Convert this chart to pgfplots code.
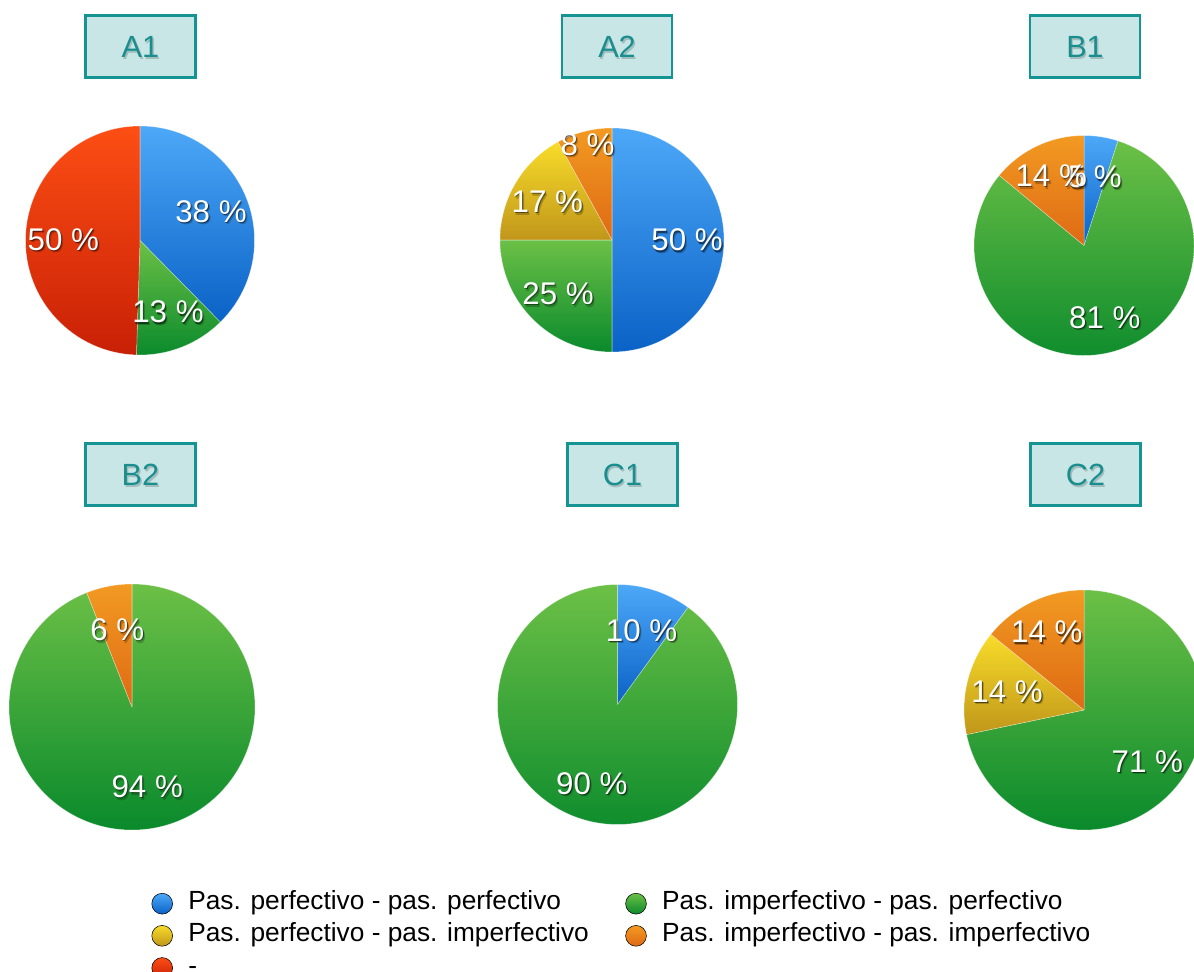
\documentclass[border=0pt]{standalone}
\usepackage{pgfplots}
\pgfplotsset{compat=1.18}
\usepackage{fontspec}
\setmainfont{Liberation Sans}

% slice colours: top and bottom of each wedge's vertical gradient
\definecolor{blueT}{HTML}{4DA8F8}
\definecolor{blueB}{HTML}{0A62C6}
\definecolor{greenT}{HTML}{6CC046}
\definecolor{greenB}{HTML}{0A8A2C}
\definecolor{yellowT}{HTML}{F8DC2A}
\definecolor{yellowB}{HTML}{C0961A}
\definecolor{orangeT}{HTML}{F29A22}
\definecolor{orangeB}{HTML}{DE6A14}
\definecolor{redT}{HTML}{FC4E14}
\definecolor{redB}{HTML}{C82006}
\definecolor{boxfill}{HTML}{C8E6E6}
\definecolor{boxline}{HTML}{169494}
\definecolor{boxtext}{HTML}{1A8E8E}

\newcommand\labelfont{\fontsize{23.5pt}{26pt}\selectfont}
\newcommand\titlefont{\fontsize{23pt}{26pt}\selectfont}
\newcommand\legendfont{\fontsize{19.7pt}{24pt}\selectfont}

% one slice entry: value/colour/label radius
\def\pieparse#1/#2/#3\relax{\def\pv{#1}\def\pc{#2}\def\pl{#3}}

\newcommand\pielabel[3]{%
  \node[text=black, opacity=0.22, font=\labelfont, xshift=1.5pt, yshift=-2pt] at (axis cs:#1,#2) {#3 \%};
  \node[text=black, opacity=0.5, font=\labelfont, xshift=0.7pt, yshift=-1pt] at (axis cs:#1,#2) {#3 \%};
  \node[text=white, font=\labelfont] at (axis cs:#1,#2) {#3 \%};
}

\newcommand\pieslices[1]{%
  \def\pietotal{0}%
  \pgfplotsforeachungrouped\s in {#1}{\expandafter\pieparse\s\relax
    \pgfmathsetmacro\pietotal{\pietotal+\pv}}%
  \def\piecum{0}%
  \pgfplotsforeachungrouped\s in {#1}{\expandafter\pieparse\s\relax
    \pgfmathsetmacro\aA{90-360*(\piecum/\pietotal)}%
    \pgfmathsetmacro\piecum{\piecum+\pv}%
    \pgfmathsetmacro\aB{90-360*(\piecum/\pietotal)}%
    \pgfmathsetmacro\cA{cos(\aA)}\pgfmathsetmacro\sA{sin(\aA)}%
    \edef\next{\noexpand\shadedraw[top color=\pc T, bottom color=\pc B,
        draw=white, draw opacity=0.45, line width=0.4pt, line join=round]
      (axis cs:0,0) -- (axis cs:\cA,\sA)
      arc[start angle=\aA, end angle=\aB, radius=\pieR] -- cycle;}%
    \next}%
  \def\piecum{0}%
  \pgfplotsforeachungrouped\s in {#1}{\expandafter\pieparse\s\relax
    \pgfmathsetmacro\aA{90-360*(\piecum/\pietotal)}%
    \pgfmathsetmacro\piecum{\piecum+\pv}%
    \pgfmathsetmacro\aB{90-360*(\piecum/\pietotal)}%
    \pgfmathsetmacro\lx{\pl*cos((\aA+\aB)/2)}%
    \pgfmathsetmacro\ly{\pl*sin((\aA+\aB)/2)}%
    \edef\next{\noexpand\pielabel{\lx}{\ly}{\pv}}%
    \next}%
}

% #1,#2 centre (px from top left), #3 radius (px), #4 slices
\newcommand\pie[4]{%
  \pgfmathsetlengthmacro\pieX{#1*0.75pt}%
  \pgfmathsetlengthmacro\pieY{(971-#2)*0.75pt}%
  \pgfmathsetlengthmacro\pieR{#3*0.75pt}%
  \pgfmathsetlengthmacro\pieD{2*#3*0.75pt}%
  \begin{axis}[hide axis, scale only axis, width=\pieD, height=\pieD,
      xmin=-1, xmax=1, ymin=-1, ymax=1, clip=false,
      at={(\pieX,\pieY)}, anchor=center]
    \pieslices{#4}
  \end{axis}}

\newcommand\titlebox[3]{%
  \node[draw=boxline, line width=2.2pt, fill=boxfill, minimum width=82.5pt,
        minimum height=47pt, inner sep=0pt] at ({#1*0.75pt},{(971-#2)*0.75pt}) {};
  \node[text=black, opacity=0.18, font=\titlefont, xshift=1pt, yshift=-1.5pt]
        at ({#1*0.75pt},{(971-#2)*0.75pt}) {#3};
  \node[text=boxtext, font=\titlefont] at ({#1*0.75pt},{(971-#2)*0.75pt}) {#3};
}

% legend marker: shaded disc
\newcommand\legdisc[1]{\path (0pt,-0.2em);
  \shade[top color=#1T, bottom color=#1B] (0pt,0.46em) circle[radius=7.8pt];}

\begin{document}
\begin{tikzpicture}
\useasboundingbox (0,0) rectangle (895.5pt,728.25pt);
\begin{scope}
\clip (0,0) rectangle (895.5pt,728.25pt);

\titlebox{140.5}{46.5}{A1}
\titlebox{617}{46.5}{A2}
\titlebox{1085}{46.5}{B1}
\titlebox{140.5}{474.5}{B2}
\titlebox{622.5}{474.5}{C1}
\titlebox{1085.5}{474.5}{C2}

\pie{140}{240.5}{114.5}{38/blue/0.67, 13/green/0.67, 50/red/0.67}
\pie{612}{240}{112}{50/blue/0.67, 25/green/0.68, 17/yellow/0.67, 8/orange/0.88}
\pie{1084}{245.5}{110}{5/blue/0.63, 81/green/0.68, 14/orange/0.70}
\pie{132}{707}{123}{94/green/0.66, 6/orange/0.64}
\pie{617.5}{704.5}{120}{10/blue/0.65, 90/green/0.69}
\pie{1084}{710}{120}{71/green/0.68, 14/yellow/0.66, 14/orange/0.72}

% legend
\begin{axis}[hide axis, scale only axis, width=895.5pt, height=728.25pt,
    xmin=0, xmax=1, ymin=0, ymax=1, at={(0pt,0pt)}, anchor=south west,
    legend columns=2,
    legend style={draw=none, fill=none, inner sep=0pt, outer sep=0pt,
      at={(0.1269,0.0803)}, anchor=north west, font=\legendfont,
      cells={anchor=base west},
      nodes={inner sep=0pt, text height=0.75em, text depth=0.25em},
      row sep=8.1pt,
      /tikz/every odd column/.append style={column sep=11.6pt},
      /tikz/every even column/.append style={column sep=27.4pt}}]
  \addlegendimage{legend image code/.code={\legdisc{blue}}}
  \addlegendentry{Pas. perfectivo - pas. perfectivo}
  \addlegendimage{legend image code/.code={\legdisc{green}}}
  \addlegendentry{Pas. imperfectivo - pas. perfectivo}
  \addlegendimage{legend image code/.code={\legdisc{yellow}}}
  \addlegendentry{Pas. perfectivo - pas. imperfectivo}
  \addlegendimage{legend image code/.code={\legdisc{orange}}}
  \addlegendentry{Pas. imperfectivo - pas. imperfectivo}
  \addlegendimage{legend image code/.code={\legdisc{red}}}
  \addlegendentry{-}
\end{axis}
\end{scope}
\end{tikzpicture}
\end{document}
